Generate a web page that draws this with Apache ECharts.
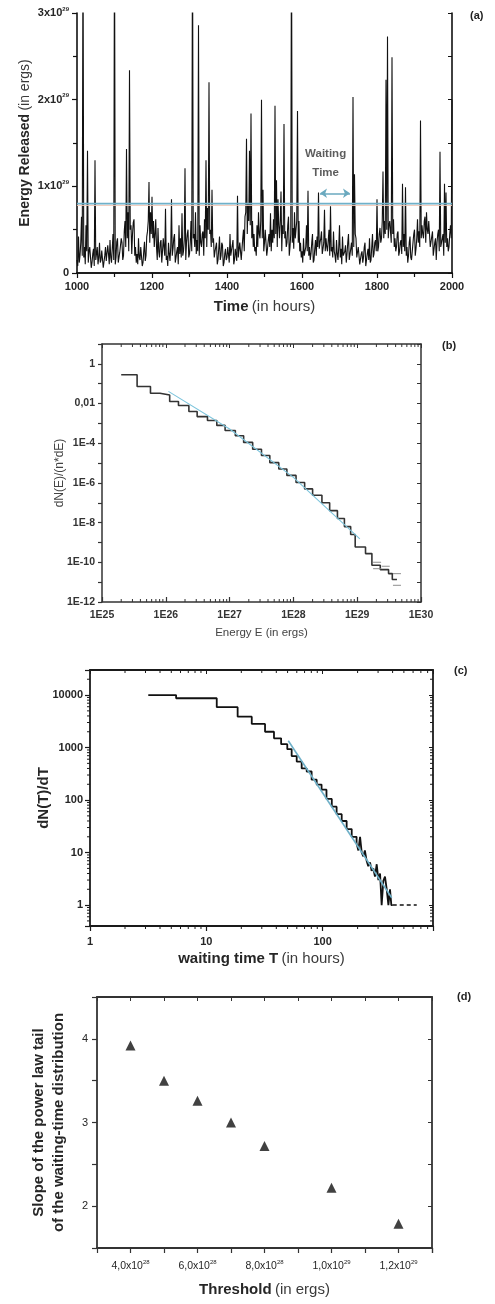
<!DOCTYPE html>
<html><head><meta charset="utf-8">
<script src="https://cdn.jsdelivr.net/npm/echarts@6/dist/echarts.min.js"></script>
<style>html,body{margin:0;padding:0;background:#fff}#c{width:495px;height:1304px}</style>
</head><body><div id="c"></div><script>
// ===== Panel (a): energy released vs time =====
const timeStart = 1000;          // hours
const timeStep = 2;              // hours between samples
const energyReleased = [         // units of 1e27 ergs, one row = 40 hours
  15, 8, 42, 12, 20, 35, 65, 20, 400, 18, 30, 10, 55, 25, 141, 12, 25, 30, 18, 6,
  12, 22, 28, 8, 130, 15, 22, 30, 10, 18, 35, 12, 15, 26, 24, 6, 8, 20, 30, 14,
  14, 32, 22, 10, 38, 18, 12, 28, 45, 15, 400, 10, 18, 36, 40, 12, 10, 24, 26, 40,
  35, 15, 20, 48, 60, 30, 143, 40, 70, 25, 234, 50, 55, 22, 45, 58, 62, 20, 30, 12,
  22, 10, 40, 18, 15, 30, 28, 8, 12, 25, 36, 14, 20, 42, 48, 60, 105, 35, 70, 45,
  88, 40, 60, 30, 45, 62, 30, 15, 52, 25, 18, 35, 38, 12, 25, 40, 42, 20, 74, 15,
  20, 8, 35, 22, 14, 30, 85, 20, 28, 40, 45, 12, 18, 25, 30, 10, 55, 22, 40, 18,
  69, 20, 25, 38, 121, 15, 35, 45, 50, 18, 22, 35, 60, 25, 400, 40, 45, 30, 70, 22,
  38, 25, 286, 20, 55, 35, 30, 45, 48, 20, 62, 40, 130, 30, 75, 50, 220, 45, 50, 30,
  96, 35, 40, 18, 25, 30, 35, 10, 15, 28, 42, 15, 20, 35, 32, 8, 12, 22, 28, 15,
  18, 30, 30, 12, 45, 20, 22, 32, 38, 10, 15, 28, 26, 14, 89, 18, 20, 35, 34, 15,
  28, 40, 50, 25, 65, 70, 155, 45, 80, 60, 141, 55, 184, 40, 60, 30, 45, 25, 30, 20,
  55, 30, 70, 45, 40, 60, 200, 40, 96, 25, 35, 50, 52, 20, 28, 38, 45, 30, 69, 25,
  50, 35, 62, 40, 193, 45, 107, 30, 85, 55, 40, 60, 94, 25, 55, 45, 172, 40, 48, 30,
  35, 55, 65, 20, 30, 45, 400, 35, 52, 28, 70, 40, 40, 60, 187, 35, 60, 25, 35, 18,
  25, 12, 40, 20, 18, 30, 55, 25, 95, 20, 30, 15, 22, 35, 45, 12, 15, 28, 38, 20,
  42, 30, 93, 28, 35, 40, 48, 22, 28, 35, 73, 25, 40, 30, 25, 38, 50, 20, 77, 25,
  30, 18, 48, 25, 20, 12, 38, 22, 15, 30, 55, 18, 28, 10, 42, 20, 18, 25, 32, 12,
  22, 35, 45, 15, 15, 28, 35, 20, 203, 30, 114, 45, 40, 18, 20, 30, 30, 10, 12, 22,
  25, 12, 18, 30, 35, 8, 10, 22, 28, 15, 40, 12, 15, 30, 45, 18, 22, 35, 38, 25,
  85, 25, 30, 45, 52, 35, 40, 60, 117, 40, 60, 45, 223, 50, 273, 40, 55, 60, 48, 35,
  249, 45, 62, 30, 40, 25, 30, 45, 48, 20, 25, 35, 38, 22, 103, 30, 45, 25, 99, 20,
  30, 12, 20, 35, 42, 18, 15, 25, 35, 45, 50, 20, 28, 40, 62, 35, 48, 30, 176, 40,
  55, 45, 40, 60, 65, 35, 70, 50, 45, 60, 58, 30, 30, 42, 48, 20, 22, 35, 40, 15,
  35, 45, 50, 25, 140, 30, 28, 40, 45, 20, 103, 35, 93, 30, 40, 25, 30, 45, 55, 40,
  200
];
const energyUnit = 1e27;
const thresholdLevel = 0.80e29;
const thresholdShadow = 0.78e29;
const waitingFrom = 1648, waitingTo = 1728, waitingArrowLevel = 0.92e29;
const waitingLabelAt = [1663, 1.263e29];

// ===== Panel (b): energy distribution =====
const energyBinEdges = [2.0e25, 3.55e25, 5.75e25, 8.1e25, 1.15e26, 1.58e26, 2.3e26, 3.1e26, 4.5e26, 6.3e26,
  8.5e26, 1.23e27, 1.66e27, 2.3e27, 3.16e27, 4.27e27, 5.9e27, 7.9e27, 1.1e28, 1.5e28,
  2.0e28, 2.8e28, 3.7e28, 4.9e28, 6.3e28, 7.9e28, 9.3e28, 1.35e29, 1.7e29, 2.3e29,
  3.1e29, 3.55e29, 4.2e29];
const energyDensity = [0.28, 0.072, 0.033, 0.027, 0.0126, 0.0079, 0.004, 0.0022, 0.0014, 7.9e-4,
  4.4e-4, 2.4e-4, 1.1e-4, 5.0e-5, 2.4e-5, 1.05e-5, 5.0e-6, 2.4e-6, 1.05e-6, 5.0e-7,
  2.4e-7, 1.0e-7, 4.0e-8, 1.6e-8, 6.3e-9, 2.5e-9, 5.9e-10, 2.75e-10, 7.1e-11, 4.3e-11,
  2.7e-11, 1.35e-11];
const energyFitE = [1.1e26, 1e27, 1e28, 1.1e29];
const energyFitD = [0.041, 5.2e-4, 1.9e-6, 1.5e-9];
const energyTailE = [2.05e29, 2.05e29, 2.8e29, 4.2e29, 4.2e29];
const energyTailD = [1.0e-10, 4.8e-11, 6.3e-11, 2.7e-11, 6.9e-12];

// ===== Panel (c): waiting-time distribution =====
const waitBinEdges = [3.17, 5.5, 12.3, 18.6, 24.6, 32, 38.2, 44, 49.7, 54.2,
  59.9, 66.1, 73, 80.5, 89, 98, 108, 120, 132, 146,
  161, 178, 196, 203, 210, 217, 224, 231, 239, 247,
  256, 264, 273, 282, 292, 302, 312, 322, 333, 344,
  356, 368, 380, 390, 401];
const waitDensity = [10000, 8700, 5870, 3880, 2820, 2000, 1500, 1160, 930, 690,
  540, 400, 350, 245, 197, 158, 105, 75, 54, 40,
  28, 20, 15, 11, 20, 10, 8.5, 11, 7, 5.5,
  6.5, 4.5, 5, 3.5, 6, 3, 4, 1, 2.9, 3.5,
  2, 1, 2, 1];
const waitTailT = [401, 645];
const waitTailD = [1, 1];
const waitFitT = [50.7, 393];
const waitFitD = [1350, 1.38];

// ===== Panel (d): slope vs threshold =====
const thresholds = [4e28, 5e28, 6e28, 7e28, 8e28, 1e29, 1.2e29];
const slopes = [3.92, 3.50, 3.26, 3.00, 2.72, 2.22, 1.79];

// ===== build =====
const FF = "'Liberation Sans', Arial, Helvetica, sans-serif";
const TXT = '#262626';
const pairs = (xs, ys) => xs.map((x, i) => [x, ys[i]]);
const stepPairs = (edges, vals) => {
  const d = vals.map((v, i) => [edges[i], v]);
  d.push([edges[edges.length - 1], vals[vals.length - 1]]);
  return d;
};
const logMinors = (lo, hi) => {
  const out = [];
  for (let e = Math.floor(Math.log10(lo)); e <= Math.ceil(Math.log10(hi)); e++) {
    for (let k = 2; k <= 9; k++) {
      const v = k * Math.pow(10, e);
      if (v > lo * 1.0001 && v < hi * 0.9999) out.push(v);
    }
  }
  return out;
};
function xMinorSeries(axisIdx, vals, yMin, yMax, nearOutside, color) {
  return {
    type: 'custom', xAxisIndex: axisIdx, yAxisIndex: axisIdx, silent: true, clip: false, z: 5,
    data: vals.map(v => [v, yMin]),
    renderItem: (p, api) => {
      const v = api.value(0);
      const b = api.coord([v, yMin]), t = api.coord([v, yMax]);
      const st = { stroke: color, lineWidth: 1 };
      return { type: 'group', children: [
        { type: 'line', shape: { x1: b[0], y1: b[1], x2: b[0], y2: nearOutside ? b[1] + 3 : b[1] - 3 }, style: st },
        { type: 'line', shape: { x1: t[0], y1: t[1], x2: t[0], y2: t[1] + 3 }, style: st }
      ] };
    }
  };
}
function yMinorSeries(axisIdx, vals, xMin, xMax, nearOutside, color) {
  return {
    type: 'custom', xAxisIndex: axisIdx, yAxisIndex: axisIdx, silent: true, clip: false, z: 5,
    data: vals.map(v => [xMin, v]),
    renderItem: (p, api) => {
      const v = api.value(1);
      const l = api.coord([xMin, v]), r = api.coord([xMax, v]);
      const st = { stroke: color, lineWidth: 1 };
      return { type: 'group', children: [
        { type: 'line', shape: { x1: l[0], y1: l[1], x2: nearOutside ? l[0] - 3 : l[0] + 3, y2: l[1] }, style: st },
        { type: 'line', shape: { x1: r[0], y1: r[1], x2: r[0] - 3, y2: r[1] }, style: st }
      ] };
    }
  };
}
const supRich = (size, weight) => ({
  m: { fontSize: size, fontWeight: weight, color: TXT, lineHeight: 14, fontFamily: FF },
  s: { fontSize: 6, fontWeight: weight, color: TXT, lineHeight: 6, verticalAlign: 'top', fontFamily: FF }
});
const titleRich = (size, nColor) => ({
  b: { fontSize: size, fontWeight: 'bold', color: TXT, fontFamily: FF },
  n: { fontSize: size, fontWeight: 'normal', color: nColor, fontFamily: FF }
});
function mirror(gridIndex, pos, extra, color, width) {
  return Object.assign({
    gridIndex, position: pos, splitLine: { show: false },
    axisLine: { lineStyle: { color, width } },
    axisTick: { show: true, inside: true, length: 4, lineStyle: { color, width: 1 } },
    axisLabel: { show: false }, minorTick: { show: false }
  }, extra);
}

const aColor = '#111', bColor = '#333', cColor = '#1a1a1a', dColor = '#333';

const xAxis = [
  // (a)
  { gridIndex: 0, type: 'value', min: 1000, max: 2000, interval: 200, position: 'bottom',
    axisLine: { lineStyle: { color: aColor, width: 1.6 } },
    axisTick: { length: 5, lineStyle: { color: aColor, width: 1.2 } },
    minorTick: { show: true, splitNumber: 2, length: 4, lineStyle: { color: aColor, width: 1.2 } },
    splitLine: { show: false },
    axisLabel: { margin: 8, fontSize: 11, fontWeight: 'bold', color: TXT, fontFamily: FF, formatter: v => String(v) },
    name: '{b|Time} {n|(in hours)}', nameLocation: 'middle', nameGap: 26, nameMoveOverlap: false,
    nameTextStyle: { rich: titleRich(15, '#3a3a3a') } },
  mirror(0, 'top', { type: 'value', min: 1000, max: 2000, interval: 100 }, aColor, 1.6),
  // (b)
  { gridIndex: 1, type: 'log', logBase: 10, min: 1e25, max: 1e30, splitNumber: 5, position: 'bottom',
    axisLine: { lineStyle: { color: bColor, width: 1.5 } },
    axisTick: { inside: true, length: 5, lineStyle: { color: bColor, width: 1.2 } },
    splitLine: { show: false },
    axisLabel: { margin: 8, fontSize: 10.5, fontWeight: 'bold', color: '#333', fontFamily: FF,
      formatter: v => '1E' + Math.round(Math.log10(v)) },
    name: 'Energy E (in ergs)', nameLocation: 'middle', nameGap: 25, nameMoveOverlap: false,
    nameTextStyle: { fontSize: 11.5, color: '#444', fontFamily: FF } },
  mirror(1, 'top', { type: 'log', logBase: 10, min: 1e25, max: 1e30, splitNumber: 5 }, bColor, 1.5),
  // (c)
  { gridIndex: 2, type: 'log', logBase: 10, min: 1, max: 890, splitNumber: 3, position: 'bottom',
    axisLine: { lineStyle: { color: cColor, width: 1.8 } },
    axisTick: { length: 5, lineStyle: { color: cColor, width: 1.2 } },
    splitLine: { show: false },
    axisLabel: { margin: 10, fontSize: 11, fontWeight: 'bold', color: TXT, fontFamily: FF,
      formatter: v => { const e = Math.log10(v); return Math.abs(e - Math.round(e)) < 1e-6 ? String(Math.round(v)) : ''; } },
    name: '{b|waiting time T} {n|(in hours)}', nameLocation: 'middle', nameGap: 25, nameMoveOverlap: false,
    nameTextStyle: { rich: titleRich(15, '#3a3a3a') } },
  mirror(2, 'top', { type: 'log', logBase: 10, min: 1, max: 890, splitNumber: 3 }, cColor, 1.8),
  // (d)
  { gridIndex: 3, type: 'value', min: 3e28, max: 1.3e29, interval: 1e28, position: 'bottom',
    axisLine: { lineStyle: { color: dColor, width: 1.8 } },
    axisTick: { length: 5, lineStyle: { color: dColor, width: 1.2 } },
    splitLine: { show: false },
    axisLabel: { margin: 11, fontSize: 10.5, color: TXT, fontFamily: FF, rich: supRich(10.5, 'normal'),
      formatter: v => {
        const k = Math.round(v / 1e27);
        if (k % 20 !== 0) return '';
        if (k < 100) return '{m|' + (k / 10) + ',0x10}{s|28}';
        return '{m|' + (k / 100).toFixed(1).replace('.', ',') + 'x10}{s|29}';
      } },
    name: '{b|Threshold} {n|(in ergs)}', nameLocation: 'middle', nameGap: 34, nameMoveOverlap: false,
    nameTextStyle: { rich: titleRich(15, '#3a3a3a') } },
  mirror(3, 'top', { type: 'value', min: 3e28, max: 1.3e29, interval: 1e28 }, dColor, 1.8)
];

const yAxis = [
  // (a)
  { gridIndex: 0, type: 'value', min: 0, max: 3e29, interval: 1e29, position: 'left',
    axisLine: { show: true, lineStyle: { color: aColor, width: 1.6 } },
    axisTick: { show: true, length: 5, lineStyle: { color: aColor, width: 1.2 } },
    minorTick: { show: true, splitNumber: 2, length: 4, lineStyle: { color: aColor, width: 1.2 } },
    splitLine: { show: false },
    axisLabel: { margin: 8, fontSize: 11, fontWeight: 'bold', color: TXT, fontFamily: FF, rich: supRich(11, 'bold'),
      formatter: v => { const n = Math.round(v / 1e29); return n === 0 ? '0' : '{m|' + n + 'x10}{s|29}'; } },
    name: '{b|Energy Released} {n|(in ergs)}', nameLocation: 'middle', nameGap: 45, nameMoveOverlap: false,
    nameTextStyle: { rich: titleRich(14, '#3a3a3a') } },
  mirror(0, 'right', { type: 'value', min: 0, max: 3e29, interval: 0.5e29 }, aColor, 1.6),
  // (b)
  { gridIndex: 1, type: 'log', logBase: 10, min: 1e-12, max: 10, splitNumber: 13, interval: 1, position: 'left',
    axisLine: { show: true, lineStyle: { color: bColor, width: 1.5 } },
    axisTick: { show: true, length: 4, lineStyle: { color: bColor, width: 1.2 } },
    splitLine: { show: false },
    axisLabel: { margin: 7, fontSize: 10.5, fontWeight: 'bold', color: '#333', fontFamily: FF,
      formatter: v => {
        const e = Math.round(Math.log10(v));
        if (e > 0 || e % 2 !== 0) return '';
        if (e === 0) return '1';
        if (e === -2) return '0,01';
        return '1E' + e;
      } },
    name: 'dN(E)/(n*dE)', nameLocation: 'middle', nameGap: 36, nameMoveOverlap: false,
    nameTextStyle: { fontSize: 12, color: '#444', fontFamily: FF } },
  mirror(1, 'right', { type: 'log', logBase: 10, min: 1e-12, max: 10, splitNumber: 13, interval: 1 }, bColor, 1.5),
  // (c)
  { gridIndex: 2, type: 'log', logBase: 10, min: 0.4, max: 30000, splitNumber: 5, position: 'left',
    axisLine: { show: true, lineStyle: { color: cColor, width: 1.8 } },
    axisTick: { show: true, length: 5, lineStyle: { color: cColor, width: 1.2 } },
    splitLine: { show: false },
    axisLabel: { margin: 7, fontSize: 11, fontWeight: 'bold', color: TXT, fontFamily: FF,
      formatter: v => { const e = Math.log10(v); return Math.abs(e - Math.round(e)) < 1e-6 ? String(Math.round(v)) : ''; } },
    name: 'dN(T)/dT', nameLocation: 'middle', nameGap: 39, nameMoveOverlap: false,
    nameTextStyle: { fontSize: 15, fontWeight: 'bold', color: TXT, fontFamily: FF } },
  mirror(2, 'right', { type: 'log', logBase: 10, min: 0.4, max: 30000, splitNumber: 5 }, cColor, 1.8),
  // (d)
  { gridIndex: 3, type: 'value', min: 1.5, max: 4.5, interval: 0.5, position: 'left',
    axisLine: { show: true, lineStyle: { color: dColor, width: 1.8 } },
    axisTick: { show: true, length: 5, lineStyle: { color: dColor, width: 1.2 } },
    splitLine: { show: false },
    axisLabel: { margin: 9, fontSize: 11, color: TXT, fontFamily: FF,
      formatter: v => Math.abs(v - Math.round(v)) < 1e-6 ? String(Math.round(v)) : '' },
    name: '{b|Slope of the power law tail}\n{b|of the waiting-time distribution}', nameLocation: 'middle', nameGap: 28,
    nameMoveOverlap: false,
    nameTextStyle: { lineHeight: 20, rich: { b: { fontSize: 15, fontWeight: 'bold', color: TXT, fontFamily: FF, lineHeight: 20 } } } },
  mirror(3, 'right', { type: 'value', min: 1.5, max: 4.5, interval: 0.5 }, dColor, 1.8)
];

const energySeriesData = energyReleased.map((v, i) => [timeStart + i * timeStep, v * energyUnit]);

const series = [
  // (a)
  { type: 'line', xAxisIndex: 0, yAxisIndex: 0, data: energySeriesData, symbol: 'none',
    lineStyle: { color: '#111', width: 1.1 }, clip: true, z: 2 },
  { type: 'line', xAxisIndex: 0, yAxisIndex: 0, data: [[timeStart, thresholdShadow], [2000, thresholdShadow]],
    symbol: 'none', lineStyle: { color: '#f2c9b8', width: 1 }, z: 3 },
  { type: 'line', xAxisIndex: 0, yAxisIndex: 0, data: [[timeStart, thresholdLevel], [2000, thresholdLevel]],
    symbol: 'none', lineStyle: { color: '#6fb1c9', width: 1.6 }, z: 4,
    markLine: { silent: true, symbol: ['arrow', 'arrow'], symbolSize: [7, 7], label: { show: false },
      lineStyle: { color: '#6aa9bf', width: 1.5, type: 'solid' },
      data: [[{ coord: [waitingFrom, waitingArrowLevel] }, { coord: [waitingTo, waitingArrowLevel] }]] } },
  { type: 'scatter', xAxisIndex: 0, yAxisIndex: 0, data: [waitingLabelAt], symbolSize: 0, silent: true,
    label: { show: true, position: 'inside', formatter: 'Waiting\nTime', fontSize: 11.5, fontWeight: 'bold',
      lineHeight: 19, color: '#333', fontFamily: FF } },
  // (b)
  { type: 'line', xAxisIndex: 2, yAxisIndex: 2, data: stepPairs(energyBinEdges, energyDensity), step: 'end',
    symbol: 'none', lineStyle: { color: '#333', width: 1.6 }, z: 2 },
  { type: 'line', xAxisIndex: 2, yAxisIndex: 2, data: pairs(energyFitE, energyFitD), symbol: 'none',
    lineStyle: { color: '#7cc4dc', width: 1.1 }, z: 3 },
  { type: 'scatter', xAxisIndex: 2, yAxisIndex: 2, data: pairs(energyTailE, energyTailD), symbol: 'rect',
    symbolSize: [8, 1.2], itemStyle: { color: '#888' }, z: 3 },
  xMinorSeries(2, logMinors(1e25, 1e30), 1e-12, 10, false, bColor),
  // (c)
  { type: 'line', xAxisIndex: 4, yAxisIndex: 4, data: stepPairs(waitBinEdges, waitDensity), step: 'end',
    symbol: 'none', lineStyle: { color: '#111', width: 1.8 }, z: 2 },
  { type: 'line', xAxisIndex: 4, yAxisIndex: 4, data: pairs(waitTailT, waitTailD), symbol: 'none',
    lineStyle: { color: '#111', width: 1.5, type: [4, 3] }, z: 2 },
  { type: 'line', xAxisIndex: 4, yAxisIndex: 4, data: pairs(waitFitT, waitFitD), symbol: 'none',
    lineStyle: { color: '#6fb0c8', width: 1.6 }, z: 3 },
  xMinorSeries(4, logMinors(1, 890), 0.4, 30000, true, cColor),
  yMinorSeries(4, logMinors(0.4, 30000), 1, 890, true, cColor),
  // (d)
  { type: 'scatter', xAxisIndex: 6, yAxisIndex: 6, data: pairs(thresholds, slopes), symbol: 'triangle',
    symbolSize: 10, itemStyle: { color: '#111' }, z: 3 }
];

const option = {
  animation: false,
  backgroundColor: '#ffffff',
  textStyle: { fontFamily: FF },
  title: [
    { text: '(a)', left: 465, top: 5, textStyle: { fontSize: 11, fontWeight: 'bold', color: '#222', fontFamily: FF } },
    { text: '(b)', left: 437, top: 335, textStyle: { fontSize: 11, fontWeight: 'bold', color: '#222', fontFamily: FF } },
    { text: '(c)', left: 449, top: 660, textStyle: { fontSize: 11, fontWeight: 'bold', color: '#222', fontFamily: FF } },
    { text: '(d)', left: 452, top: 986, textStyle: { fontSize: 11, fontWeight: 'bold', color: '#222', fontFamily: FF } }
  ],
  grid: [
    { left: 77, right: 43, top: 13, height: 260, containLabel: false },
    { left: 102, right: 74, top: 344, height: 258, containLabel: false },
    { left: 90, right: 62, top: 670, height: 256, containLabel: false },
    { left: 97, right: 63, top: 997, height: 251, containLabel: false }
  ],
  xAxis, yAxis, series
};
const chart = echarts.init(document.getElementById('c'), null, { renderer: 'canvas', width: 495, height: 1304 });
chart.setOption(option);
</script></body></html>
